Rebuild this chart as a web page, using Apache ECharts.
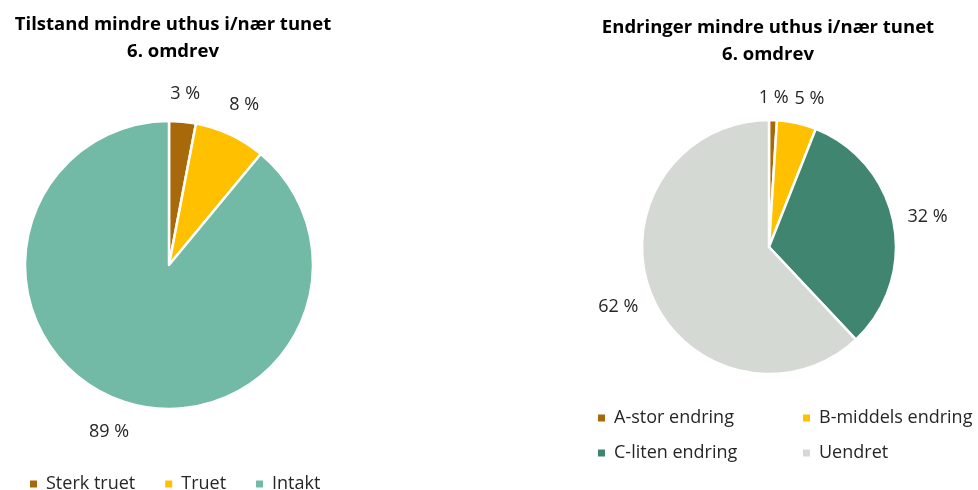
<!DOCTYPE html>
<html>
<head>
<meta charset="utf-8">
<script src="https://cdn.jsdelivr.net/npm/echarts@6/dist/echarts.min.js"></script>
<style>
  html, body { margin: 0; padding: 0; background: #ffffff; }
  #chart { width: 978px; height: 490px; }
</style>
</head>
<body>
<div id="chart"></div>
<script>
// Tilstand (condition) of minor outbuildings, 6th survey round
const tilstandNames = ['Sterk truet', 'Truet', 'Intakt'];
const tilstandValues = [3, 8, 89];
const tilstandColors = ['#A8690A', '#FFC000', '#72B9A6'];

// Endringer (changes) of minor outbuildings, 6th survey round
const endringNames = ['A-stor endring', 'B-middels endring', 'C-liten endring', 'Uendret'];
const endringValues = [1, 5, 32, 62];
const endringColors = ['#A8690A', '#FFC000', '#3F8570', '#D5D9D3'];

const FONT = '"Open Sans", "Noto Sans", sans-serif';
const TEXT_COLOR = '#262626';

// Places each percentage label just outside its wedge, centred on the
// wedge's mid-angle and pushed out by the half-extent of the label box.
// A label that would collide with an earlier one is slid sideways.
function outsideLabelLayout(values, center, radius, gap) {
  const total = values.reduce((a, b) => a + b, 0);
  let placed = [];
  return function (params) {
    if (params.dataIndex === 0) placed = [];
    let before = 0;
    for (let i = 0; i < params.dataIndex; i++) before += values[i];
    const mid = (before + values[params.dataIndex] / 2) / total * Math.PI * 2;
    const ux = Math.sin(mid);
    const uy = -Math.cos(mid);
    const w = params.labelRect.width;
    const h = params.labelRect.height;
    const ext = Math.abs(ux) * w / 2 + Math.abs(uy) * h / 2;
    const d = radius + gap + ext;
    let x = center[0] + ux * d;
    const y = center[1] + uy * d;
    const dir = ux >= 0 ? 1 : -1;
    placed.forEach(function (b) {
      const overlapX = (w + b.w) / 2 - Math.abs(x - b.x);
      const overlapY = (h + b.h) / 2 - Math.abs(y - b.y);
      if (overlapX > 0 && overlapY > 0) x += dir * (overlapX + 6);
    });
    placed.push({ x: x, y: y, w: w, h: h });
    return {
      x: x,
      y: y,
      align: 'center',
      verticalAlign: 'middle',
      hideOverlap: false
    };
  };
}

function piePanel(names, values, colors, center, radius, gap) {
  return {
    type: 'pie',
    center: center,
    radius: radius,
    startAngle: 90,
    clockwise: true,
    silent: true,
    animation: false,
    avoidLabelOverlap: false,
    itemStyle: { borderColor: '#ffffff', borderWidth: 2.5 },
    label: {
      show: true,
      position: 'outside',
      formatter: '{c} %',
      color: TEXT_COLOR,
      fontFamily: FONT,
      fontSize: 18
    },
    labelLine: { show: false, length: 0, length2: 0 },
    labelLayout: outsideLabelLayout(values, center, radius, gap),
    data: names.map((n, i) => ({ name: n, value: values[i], itemStyle: { color: colors[i] } }))
  };
}

const chart = echarts.init(document.getElementById('chart'), null, { renderer: 'canvas' });

const legendBase = {
  icon: 'rect',
  itemWidth: 9,
  itemHeight: 9,
  selectedMode: false,
  textStyle: { color: TEXT_COLOR, fontFamily: FONT, fontSize: 18, padding: [0, 0, 0, 3] }
};

chart.setOption({
  backgroundColor: '#ffffff',
  title: [
    {
      text: 'Tilstand mindre uthus i/nær tunet\n6. omdrev',
      left: 168, top: 6, textAlign: 'center',
      textStyle: { fontFamily: FONT, fontWeight: 'bold', fontSize: 18.5, lineHeight: 27, color: '#000000' }
    },
    {
      text: 'Endringer mindre uthus i/nær tunet\n6. omdrev',
      left: 763, top: 9, textAlign: 'center',
      textStyle: { fontFamily: FONT, fontWeight: 'bold', fontSize: 18.5, lineHeight: 27, color: '#000000' }
    }
  ],
  legend: [
    Object.assign({}, legendBase, {
      data: tilstandNames,
      left: 23, top: 470, itemGap: 28, orient: 'horizontal'
    }),
    Object.assign({}, legendBase, {
      data: [endringNames[0], endringNames[2]],
      left: 591, top: 404, itemGap: 17, orient: 'vertical'
    }),
    Object.assign({}, legendBase, {
      data: [endringNames[1], endringNames[3]],
      left: 796, top: 404, itemGap: 17, orient: 'vertical'
    })
  ],
  series: [
    piePanel(tilstandNames, tilstandValues, tilstandColors, [169, 265], 144, 18),
    piePanel(endringNames, endringValues, endringColors, [769, 247], 127, 13)
  ]
});
</script>
</body>
</html>
